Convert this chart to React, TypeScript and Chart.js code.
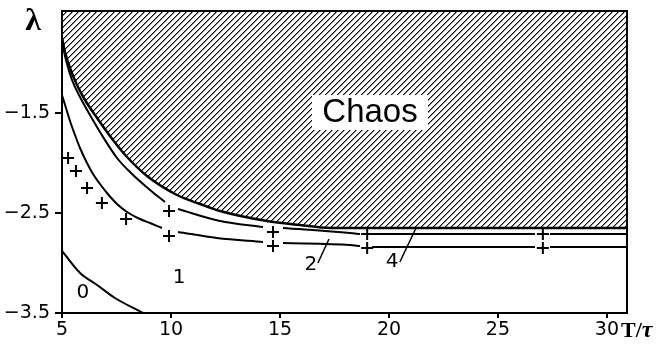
import React, { useEffect, useRef } from 'react';
import { Chart, registerables } from 'chart.js';

Chart.register(...registerables);

// ---- axis ticks ----
const xTicks = [5, 10, 15, 20, 25, 30];
const xTickLabels = ['5', '10', '15', '20', '25', '30'];
const yTicks = [-3.5, -2.5, -1.5];
const yTickLabels = ['−3.5', '−2.5', '−1.5'];

// ---- curve 0 ----
const curve0X = [5.0, 5.83, 6.61, 7.43, 8.72];
const curve0Y = [-2.88, -3.1, -3.22, -3.35, -3.5];

// ---- curve 2 (lower) ----
const curve2X = [5.0, 5.183, 5.367, 5.596, 5.826, 6.147, 6.422, 6.743, 7.064, 7.523, 7.982, 8.578, 9.037, 9.587, 10.0, 10.321, 12.11, 14.22, 14.68, 15.138, 18.211, 18.67, 19.0, 19.22, 26.697, 27.06, 27.385, 30.92];
const curve2Y = [-1.32, -1.45, -1.58, -1.72, -1.85, -2.0, -2.11, -2.21, -2.3, -2.41, -2.49, -2.56, -2.6, -2.65, null, -2.69, -2.75, -2.79, null, -2.8, -2.82, -2.83, null, -2.84, -2.84, null, -2.84, -2.84];

// ---- curve 3 (middle) ----
const curve3X = [5.0, 5.183, 5.459, 5.826, 6.284, 6.743, 7.523, 8.119, 9.037, 9.725, 10.0, 10.321, 12.248, 14.22, 14.68, 15.138, 18.211, 18.67, 19.0, 19.22, 26.697, 27.06, 27.385, 30.92];
const curve3Y = [-0.79, -0.97, -1.17, -1.34, -1.52, -1.69, -1.95, -2.09, -2.27, -2.39, null, -2.46, -2.58, -2.64, null, -2.65, -2.7, -2.71, null, -2.71, -2.71, null, -2.71, -2.71];

// ---- curve 4 (chaos boundary) ----
const curve4X = [5.0, 5.138, 5.367, 5.688, 6.055, 6.514, 7.339, 7.982, 8.899, 10.275, 11.33, 12.248, 14.404, 15.917, 17.294, 30.92];
const curve4Y = [-0.75, -0.89, -1.05, -1.22, -1.37, -1.52, -1.77, -1.94, -2.13, -2.32, -2.41, -2.48, -2.58, -2.62, -2.65, -2.65];

// ---- markers (+) ----
const markerX = [5.28, 5.64, 6.15, 6.83, 7.94, 9.91, 9.91, 14.68, 14.68, 19.0, 19.0, 27.06, 27.06];
const markerY = [-1.95, -2.08, -2.25, -2.4, -2.56, -2.48, -2.73, -2.69, -2.83, -2.71, -2.85, -2.71, -2.85];

// ---- leader lines ----
const leader2X = [16.74, 17.25];
const leader2Y = [-3.0, -2.76];
const leader4X = [20.5, 21.24];
const leader4Y = [-2.99, -2.65];

// ---- region labels ----
const regionLabels = ['0', '1', '2', '4'];
const regionLabelX = [5.96, 10.37, 16.42, 20.14];
const regionLabelY = [-3.3, -3.15, -3.02, -2.99];
const chaosLabel = 'Chaos';
const chaosLabelX = 19.13;
const chaosLabelY = -1.49;
const yAxisTitle = 'λ';
const xAxisTitleMain = 'T/';
const xAxisTitleGreek = 'τ';

const X_MIN = 5;
const X_MAX = 30.92;
const Y_MIN = -3.5;
const Y_MAX = -0.48;

function pts(xs: number[], ys: (number | null)[]) {
  return xs.map((x, i) => ({ x, y: ys[i] }));
}

function makeHatch(): CanvasPattern | string {
  const c = document.createElement('canvas');
  c.width = 6;
  c.height = 6;
  const g = c.getContext('2d');
  if (!g) return '#888';
  g.fillStyle = '#fff';
  g.fillRect(0, 0, 6, 6);
  for (let i = 0; i < 6; i++) {
    g.fillStyle = '#000';
    g.fillRect(i, 5 - i, 1, 1);
    g.fillStyle = '#8a8a8a';
    g.fillRect(i, (6 - i) % 6, 1, 1);
  }
  return g.createPattern(c, 'repeat') || '#888';
}

function zeroPad(s: any) {
  s.paddingTop = 0;
  s.paddingBottom = 0;
  s.paddingLeft = 0;
  s.paddingRight = 0;
}

export default function App() {
  const ref = useRef<HTMLCanvasElement | null>(null);

  useEffect(() => {
    document.body.style.margin = '0';
    const canvas = ref.current;
    if (!canvas) return;
    const hatch = makeHatch();

    const annotPlugin = {
      id: 'annot',
      afterDatasetsDraw(chart: any) {
        const ctx = chart.ctx as CanvasRenderingContext2D;
        const xs = chart.scales.x;
        const ys = chart.scales.y;
        const a = chart.chartArea;
        ctx.save();
        // frame
        ctx.strokeStyle = '#000';
        ctx.lineWidth = 2;
        ctx.strokeRect(a.left, a.top, a.right - a.left, a.bottom - a.top);
        // chaos box
        const cx = xs.getPixelForValue(chaosLabelX);
        const cy = ys.getPixelForValue(chaosLabelY);
        ctx.fillStyle = '#fff';
        ctx.fillRect(cx - 58, cy - 17, 116, 35);
        ctx.fillStyle = '#000';
        ctx.font = '33px "Liberation Sans", Arial, sans-serif';
        ctx.textAlign = 'center';
        ctx.textBaseline = 'middle';
        ctx.fillText(chaosLabel, cx, cy + 1);
        // region labels
        ctx.font = '20px "DejaVu Sans", sans-serif';
        regionLabels.forEach((t, i) => {
          ctx.fillText(t, xs.getPixelForValue(regionLabelX[i]), ys.getPixelForValue(regionLabelY[i]));
        });
        // axis titles
        ctx.font = 'bold 32px "Liberation Serif", serif';
        ctx.textAlign = 'center';
        ctx.textBaseline = 'alphabetic';
        ctx.fillText(yAxisTitle, 33, 30);
        ctx.textAlign = 'left';
        ctx.font = 'bold 22px "Liberation Serif", serif';
        ctx.fillText(xAxisTitleMain, 621, 337);
        const w = ctx.measureText(xAxisTitleMain).width;
        ctx.font = 'bold italic 24px "Liberation Serif", serif';
        ctx.fillText(xAxisTitleGreek, 621 + w, 337);
        ctx.restore();
      },
    };

    const lineBase = {
      type: 'line' as const,
      borderColor: '#000',
      borderWidth: 2,
      pointRadius: 0,
      fill: false,
      cubicInterpolationMode: 'monotone' as const,
      spanGaps: false,
    };

    const chart = new Chart(canvas, {
      type: 'line',
      data: {
        datasets: [
          {
            ...lineBase,
            type: 'scatter',
            showLine: false,
            data: pts(markerX, markerY),
            pointStyle: 'cross',
            pointRadius: 6,
            pointBorderWidth: 2,
            pointBorderColor: '#000',
            borderColor: '#000',
          } as any,
          { ...lineBase, data: pts(leader2X, leader2Y), borderWidth: 1.5, cubicInterpolationMode: 'default', tension: 0 } as any,
          { ...lineBase, data: pts(leader4X, leader4Y), borderWidth: 1.5, cubicInterpolationMode: 'default', tension: 0 } as any,
          { ...lineBase, data: pts(curve0X, curve0Y) } as any,
          { ...lineBase, data: pts(curve2X, curve2Y) } as any,
          { ...lineBase, data: pts(curve3X, curve3Y) } as any,
          { ...lineBase, data: pts(curve4X, curve4Y), borderWidth: 2.5, fill: 'end', backgroundColor: hatch } as any,
        ],
      },
      options: {
        responsive: false,
        animation: false,
        devicePixelRatio: 1,
        events: [],
        layout: { padding: { top: 11, right: 34, left: 0, bottom: 0 } },
        plugins: { legend: { display: false }, tooltip: { enabled: false } },
        scales: {
          x: {
            type: 'linear',
            min: X_MIN,
            max: X_MAX,
            border: { display: false },
            grid: { display: true, drawOnChartArea: false, drawTicks: true, tickLength: 5, color: '#000', lineWidth: 2 },
            ticks: {
              color: '#000',
              padding: 1,
              maxRotation: 0,
              font: { family: '"DejaVu Sans", sans-serif', size: 19 },
              callback: (v: any) => {
                const i = xTicks.indexOf(Number(v));
                return i >= 0 ? xTickLabels[i] : '';
              },
            },
            afterBuildTicks: (s: any) => {
              s.ticks = xTicks.map((v) => ({ value: v }));
            },
            afterFit: (s: any) => {
              s.height = 34;
              zeroPad(s);
            },
          },
          y: {
            type: 'linear',
            min: Y_MIN,
            max: Y_MAX,
            border: { display: false },
            grid: { display: true, drawOnChartArea: false, drawTicks: true, tickLength: 7, color: '#000', lineWidth: 2 },
            ticks: {
              color: '#000',
              padding: 5,
              font: { family: '"DejaVu Sans", sans-serif', size: 19 },
              callback: (v: any) => {
                const i = yTicks.indexOf(Number(v));
                return i >= 0 ? yTickLabels[i] : '';
              },
            },
            afterBuildTicks: (s: any) => {
              s.ticks = yTicks.map((v) => ({ value: v }));
            },
            afterFit: (s: any) => {
              s.width = 62;
              zeroPad(s);
            },
          },
        },
      },
      plugins: [annotPlugin],
    });

    return () => chart.destroy();
  }, []);

  return (
    <div style={{ width: 661, height: 347, background: '#fff' }}>
      <canvas ref={ref} width={661} height={347} style={{ display: 'block' }} />
    </div>
  );
}
